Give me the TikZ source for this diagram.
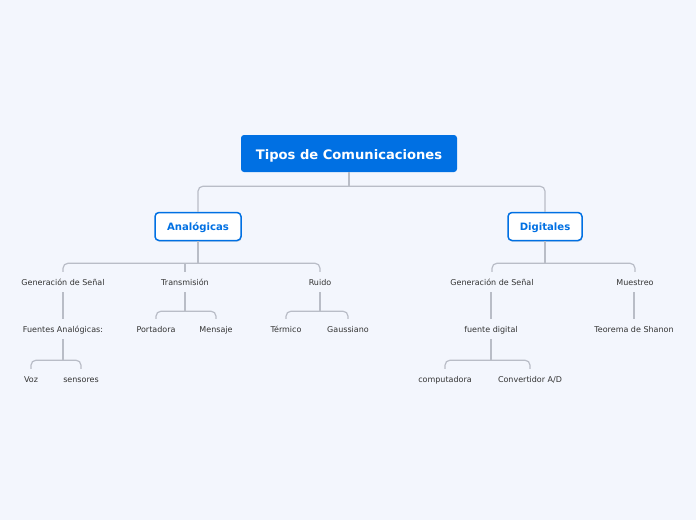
\documentclass[tikz,border=0pt]{standalone}
\usepackage{fontspec}
\setmainfont{DejaVu Sans}
\usetikzlibrary{shadows}
\definecolor{bg}{HTML}{F3F6FD}
\definecolor{mblue}{HTML}{0070E3}
\definecolor{lc}{HTML}{B9BDC7}
\definecolor{tx}{HTML}{333333}
\begin{document}
\begin{tikzpicture}[x=1pt,y=-1pt,
 rootbox/.style={fill=mblue, rounded corners=3pt, text=white, font=\fontsize{13.1}{15}\selectfont\bfseries, minimum width=216pt, minimum height=37pt, inner sep=0pt, text height=11.5pt, text depth=0.5pt},
 subbox/.style={draw=mblue, line width=1.5pt, fill=white, rounded corners=4pt, text=mblue, font=\fontsize{10.1}{12}\selectfont\bfseries, minimum height=28pt, inner sep=0pt, text height=9pt, text depth=0.5pt, drop shadow={opacity=0.25, shadow xshift=0.6pt, shadow yshift=-1.2pt}},
 leaf/.style={text=tx, font=\fontsize{8}{9}\selectfont, minimum height=20pt, inner sep=0pt, text height=7.2pt, text depth=0.8pt},
 conn/.style={draw=lc, line width=1.2pt, rounded corners=5pt}]
\useasboundingbox (0,0) rectangle (696,520);
\fill[bg] (0,0) rectangle (696,520);
% main nodes
\node[rootbox] (root) at (349,153.5) {Tipos de Comunicaciones};
\node[subbox, minimum width=86pt] (ana) at (198,226.5) {Analógicas};
\node[subbox, minimum width=74pt] (dig) at (545,226.5) {Digitales};
% left leaves
\node[leaf] (g1) at (63,282) {Generación de Señal};
\node[leaf] (t1) at (185,282) {Transmisión};
\node[leaf] (r1) at (320,282) {Ruido};
\node[leaf] (f1) at (63,329) {Fuentes Analógicas:};
\node[leaf] (p1) at (156,329) {Portadora};
\node[leaf] (m1) at (216,329) {Mensaje};
\node[leaf] (te) at (286,329) {Térmico};
\node[leaf] (ga) at (348,329) {Gaussiano};
\node[leaf] (voz) at (31,379) {Voz};
\node[leaf] (sen) at (81,379) {sensores};
% right leaves
\node[leaf] (g2) at (492,282) {Generación de Señal};
\node[leaf] (mu) at (635,282) {Muestreo};
\node[leaf] (fd) at (491,329) {fuente digital};
\node[leaf] (ts) at (634,329) {Teorema de Shanon};
\node[leaf] (co) at (445,379) {computadora};
\node[leaf] (cv) at (530,379) {Convertidor A/D};
% connectors
\draw[conn] (root.south) -- ++(0,14) coordinate (rj);
\draw[conn] (ana.north) |- (rj);
\draw[conn] (dig.north) |- (rj);
\draw[conn] (ana.south) -- ++(0,22) coordinate (aj);
\draw[conn] (g1.north) |- (aj);
\draw[conn] (t1.north) -- (aj -| t1.north);
\draw[conn] (r1.north) |- (aj);
\draw[conn] (dig.south) -- ++(0,22) coordinate (dj);
\draw[conn] (g2.north) |- (dj);
\draw[conn] (mu.north) |- (dj);
\draw[conn] (g1.south) -- (f1.north);
\draw[conn] (fd.north |- g2.south) -- (fd.north);
\draw[conn] (ts.north |- mu.south) -- (ts.north);
\draw[conn] (t1.south) -- ++(0,19) coordinate (tj);
\draw[conn] (p1.north) |- (tj);
\draw[conn] (m1.north) |- (tj);
\draw[conn] (r1.south) -- ++(0,19) coordinate (rrj);
\draw[conn] (te.north) |- (rrj);
\draw[conn] (ga.north) |- (rrj);
\draw[conn] (f1.south) -- ++(0,21) coordinate (fj);
\draw[conn] (voz.north) |- (fj);
\draw[conn] (sen.north) |- (fj);
\draw[conn] (fd.south) -- ++(0,21) coordinate (fdj);
\draw[conn] (co.north) |- (fdj);
\draw[conn] (cv.north) |- (fdj);
\end{tikzpicture}
\end{document}
